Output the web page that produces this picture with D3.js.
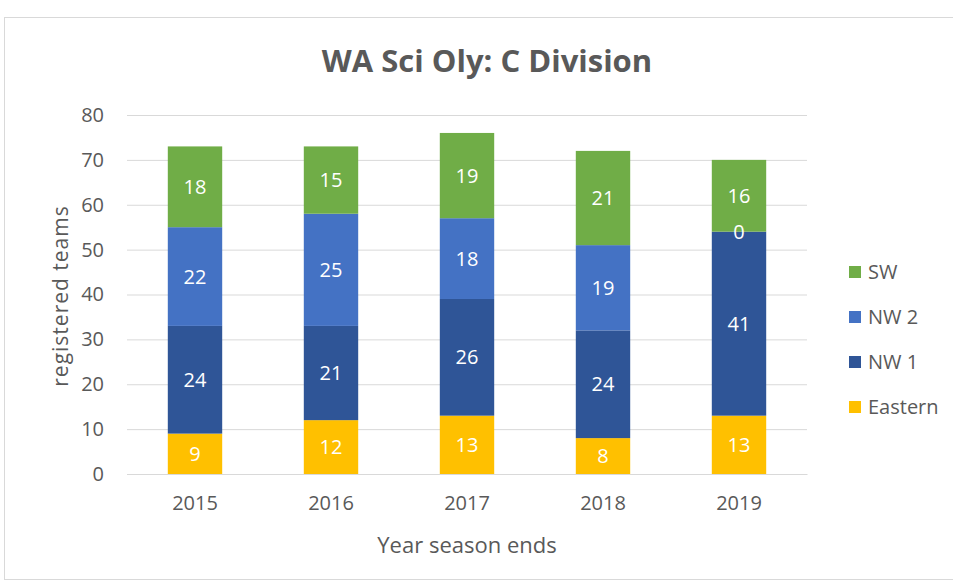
<!DOCTYPE html>
<html>
<head>
<meta charset="utf-8">
<style>
  body { margin: 0; background: #fff; }
  text { font-family: "Open Sans", sans-serif; }
</style>
</head>
<body></body>
<script src="https://d3js.org/d3.v7.min.js"></script>
<script>
  // data
  const years = ['2015', '2016', '2017', '2018', '2019']
  const seriesNames = ['Eastern', 'NW 1', 'NW 2', 'SW']
  const eastern = [9, 12, 13, 8, 13]
  const nw1 = [24, 21, 26, 24, 41]
  const nw2 = [22, 25, 18, 19, 0]
  const sw = [18, 15, 19, 21, 16]
  const yTicks = [0, 10, 20, 30, 40, 50, 60, 70, 80]
  const colors = ['#FFC000', '#2F5597', '#4472C4', '#70AD47']

  const width = 953
  const height = 582
  const plot = { left: 127, right: 807, top: 115, bottom: 474 }

  const rows = years.map((y, i) => ({
    year: y, 'Eastern': eastern[i], 'NW 1': nw1[i], 'NW 2': nw2[i], 'SW': sw[i]
  }))
  const stacked = d3.stack().keys(seriesNames)(rows)

  const svg = d3.select('body').append('svg')
    .attr('width', width)
    .attr('height', height)

  // chart frame
  svg.append('rect')
    .attr('x', 4.5).attr('y', 17.5)
    .attr('width', width + 10).attr('height', height - 20)
    .attr('fill', '#fff')
    .attr('stroke', '#d9d9d9')

  const x = d3.scaleBand()
    .domain(years)
    .range([plot.left, plot.right])
    .paddingInner(0.6)
    .paddingOuter(0.3)

  const y = d3.scaleLinear()
    .domain([0, 80])
    .range([plot.bottom, plot.top])

  // gridlines + y labels
  const yAxis = svg.append('g')
    .attr('transform', `translate(${plot.left},0)`)
    .call(d3.axisLeft(y).tickValues(yTicks).tickSize(-(plot.right - plot.left)).tickPadding(23))
  yAxis.select('.domain').remove()
  yAxis.selectAll('.tick line').attr('stroke', '#d9d9d9')
  yAxis.selectAll('.tick text')
    .attr('fill', '#595959')
    .style('font-size', '20px')

  // x labels
  const xAxis = svg.append('g')
    .attr('transform', `translate(0,${plot.bottom})`)
    .call(d3.axisBottom(x).tickSize(0).tickPadding(22))
  xAxis.select('.domain').attr('stroke', '#d9d9d9')
  xAxis.selectAll('.tick text')
    .attr('fill', '#595959')
    .style('font-size', '20px')

  // bars
  svg.selectAll('.layer')
    .data(stacked)
    .enter().append('g')
    .attr('class', 'layer')
    .attr('fill', (d, i) => colors[i])
    .selectAll('rect')
    .data(d => d)
    .enter().append('rect')
    .attr('x', d => x(d.data.year))
    .attr('y', d => y(d[1]))
    .attr('width', x.bandwidth())
    .attr('height', d => y(d[0]) - y(d[1]))

  // value labels, drawn after all bars so the 0 stays visible
  const labels = stacked.flatMap(s => s.map(v => ({ v, key: s.key })))
  svg.append('g').selectAll('text')
    .data(labels)
    .enter().append('text')
    .attr('x', d => x(d.v.data.year) + x.bandwidth() / 2)
    .attr('y', d => (y(d.v[0]) + y(d.v[1])) / 2)
    .attr('dy', '0.35em')
    .attr('text-anchor', 'middle')
    .attr('fill', '#fff')
    .style('font-size', '20px')
    .text(d => d.v.data[d.key])

  // title
  svg.append('text')
    .attr('x', 487).attr('y', 72)
    .attr('text-anchor', 'middle')
    .attr('fill', '#595959')
    .style('font-size', '31px')
    .style('font-weight', 'bold')
    .text('WA Sci Oly: C Division')

  // axis titles
  svg.append('text')
    .attr('x', 467).attr('y', 553)
    .attr('text-anchor', 'middle')
    .attr('fill', '#595959')
    .style('font-size', '22px')
    .text('Year season ends')

  svg.append('text')
    .attr('transform', 'translate(68,296) rotate(-90)')
    .attr('text-anchor', 'middle')
    .attr('fill', '#595959')
    .style('font-size', '21px')
    .style('letter-spacing', '1px')
    .text('registered teams')

  // legend (top to bottom: SW, NW 2, NW 1, Eastern)
  const legendOrder = seriesNames.slice().reverse()
  const legend = svg.selectAll('.legend')
    .data(legendOrder)
    .enter().append('g')
    .attr('class', 'legend')
    .attr('transform', (d, i) => `translate(849,${266 + i * 45})`)

  legend.append('rect')
    .attr('width', 12).attr('height', 12)
    .attr('fill', d => colors[seriesNames.indexOf(d)])

  legend.append('text')
    .attr('x', 19).attr('y', 6)
    .attr('dy', '0.35em')
    .attr('fill', '#595959')
    .style('font-size', '20px')
    .text(d => d)
</script>
</html>
